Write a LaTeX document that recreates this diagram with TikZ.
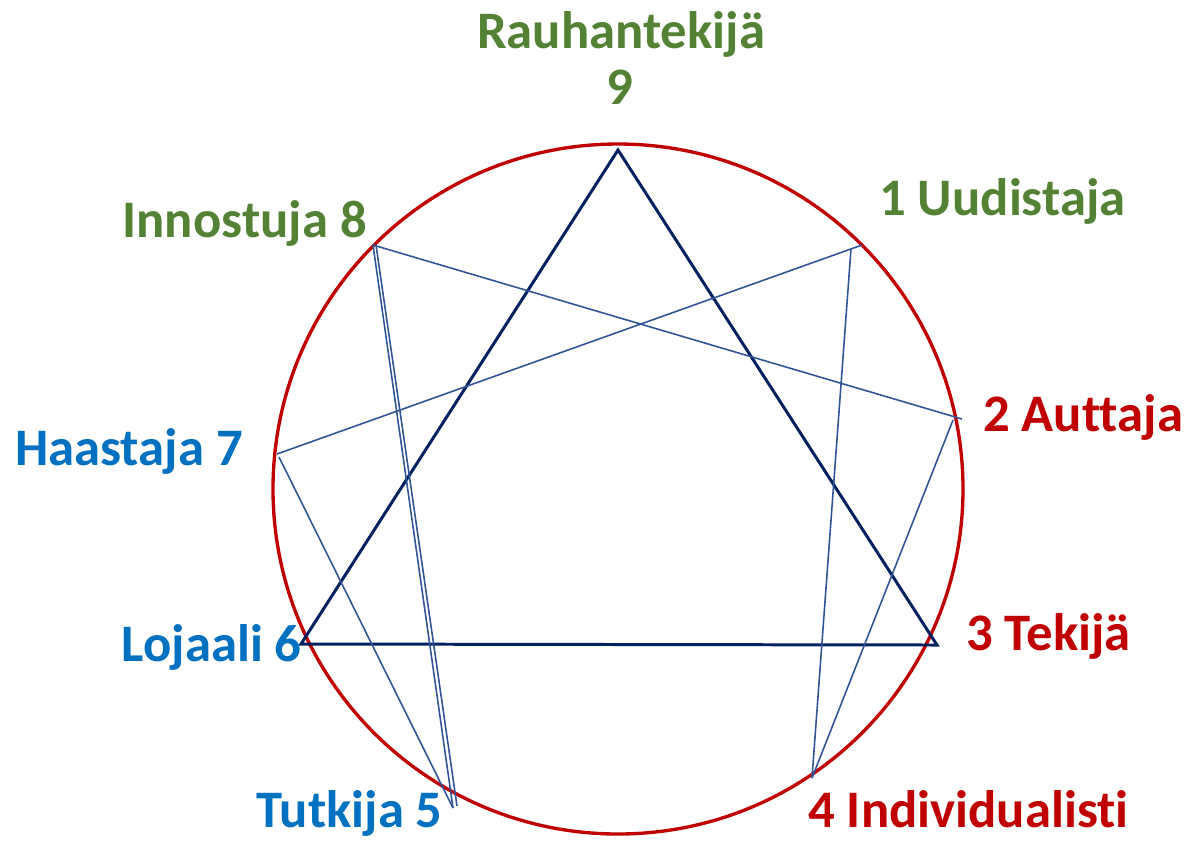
\documentclass[tikz,border=0pt]{standalone}
\usepackage{fontspec}
\setmainfont{Carlito}[Ligatures=NoCommon]
\usepackage{tikz}

\definecolor{ringred}{RGB}{192,0,0}
\definecolor{leafgreen}{RGB}{84,130,53}
\definecolor{typeblue}{RGB}{0,112,192}
\definecolor{navy}{RGB}{0,32,96}
\definecolor{linkblue}{RGB}{47,85,151}

\tikzset{
  lbl/.style={inner sep=0pt, font=\fontsize{30}{36}\selectfont\bfseries},
  ring/.style={draw=ringred, line width=1.9pt},
  tri/.style={draw=navy, line width=1.7pt, line join=miter},
  link/.style={draw=linkblue, line width=0.9pt}
}

\begin{document}
\begin{tikzpicture}[x=0.02cm,y=-0.02cm]

\useasboundingbox (0,0) rectangle (1190,840);

%circle
\draw [ring] (618,489) circle [radius=345];

%points
\coordinate (p9) at (618,150);
\coordinate (p3) at (937,645);
\coordinate (p6) at (301,644);
\coordinate (p8) at (373,245);
\coordinate (p8b) at (376,245);
\coordinate (p1a) at (862,245);
\coordinate (p1b) at (851,249);
\coordinate (p2a) at (962,419);
\coordinate (p2b) at (953,420);
\coordinate (p4) at (812,778);
\coordinate (p5) at (453,808);
\coordinate (p5b) at (457,806);
\coordinate (p7a) at (277,454);
\coordinate (p7b) at (279,457);

%triangle
\draw [tri] (p9)--(p3)--(p6)--cycle;

%hexad
\draw [link] (p1b)--(p4);
\draw [link] (p4)--(p2b);
\draw [link] (p2a)--(p8);
\draw [link] (p8)--(p5); \draw [link] (p8b)--(p5b);
\draw [link] (p5)--(p7b);
\draw [link] (p7a)--(p1a);

%labels
\node [lbl, text=leafgreen, anchor=base] (n9a) at (621,48) {Rauhantekijä};
\node [lbl, text=leafgreen, anchor=base] (n9) at (620,104) {9};
\node [lbl, text=leafgreen, anchor=base west] (n1) at (879,215) {1 Uudistaja};
\node [lbl, text=ringred, anchor=base west] (n2) at (983,431) {2 Auttaja};
\node [lbl, text=ringred, anchor=base west] (n3) at (966,650) {3 Tekijä};
\node [lbl, text=ringred, anchor=base west] (n4) at (808,827) {4 Individualisti};
\node [lbl, text=typeblue, anchor=base east] (n5) at (443,827) {Tutkija 5};
\node [lbl, text=typeblue, anchor=base east] (n6) at (302,661) {Lojaali 6};
\node [lbl, text=typeblue, anchor=base east] (n7) at (243,465) {Haastaja 7};
\node [lbl, text=leafgreen, anchor=base east] (n8) at (367,237) {Innostuja 8};

\end{tikzpicture}
\end{document}
